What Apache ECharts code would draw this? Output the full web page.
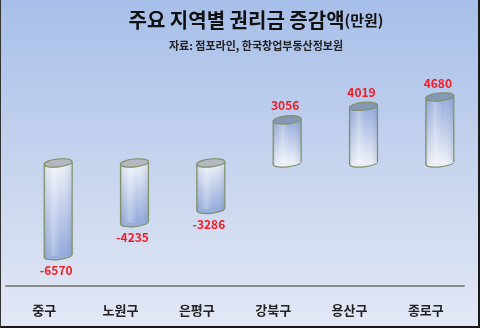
<!DOCTYPE html>
<html>
<head>
<meta charset="utf-8">
<script src="https://cdn.jsdelivr.net/npm/echarts@6/dist/echarts.min.js"></script>
<style>
html,body{margin:0;padding:0;}
#c{width:480px;height:328px;}
</style>
</head>
<body>
<div id="c"></div>
<script>
const categories = ['중구', '노원구', '은평구', '강북구', '용산구', '종로구'];
const values = [-6570, -4235, -3286, 3056, 4019, 4680];
const titleMain = '주요 지역별 권리금 증감액';
const titleUnit = '(만원)';
const subTitle = '자료: 점포라인, 한국창업부동산정보원';

const chart = echarts.init(document.getElementById('c'), null, {renderer: 'canvas'});
const FONT = '"Noto Sans CJK KR", "Noto Sans", sans-serif';
const OUTLINE = '#7f9166';

function renderItem(params, api) {
  const idx = api.value(0);
  const v = api.value(1);
  const p0 = api.coord([idx, 0]);
  const p1 = api.coord([idx, v]);
  const cx = p0[0] + 14;
  const rx = 14, ry = 4;
  const yTop = Math.min(p0[1], p1[1]);
  const yBot = Math.max(p0[1], p1[1]);
  const neg = v < 0;
  const vert = new echarts.graphic.LinearGradient(0, 0, 0, 1, neg ? [
    {offset: 0, color: '#eef1f9'}, {offset: 1, color: '#93aadb'}
  ] : [
    {offset: 0, color: '#93aadb'}, {offset: 1, color: '#eef1f9'}
  ]);
  const horiz = new echarts.graphic.LinearGradient(0, 0, 1, 0, [
    {offset: 0, color: 'rgba(100,110,130,0.35)'},
    {offset: 0.1, color: 'rgba(180,190,205,0.12)'},
    {offset: 0.32, color: 'rgba(255,255,255,0.3)'},
    {offset: 0.6, color: 'rgba(255,255,255,0.0)'},
    {offset: 1, color: 'rgba(70,95,150,0.2)'}
  ]);
  const rot = 0.1;
  const children = [
    {type: 'ellipse', shape: {cx: cx, cy: yBot, rx: rx, ry: ry}, rotation: rot, originX: cx, originY: yBot,
      style: {fill: neg ? '#98aedc' : '#eaeef8', stroke: OUTLINE, lineWidth: 1.2}},
    {type: 'rect', shape: {x: cx - rx, y: yTop, width: rx * 2, height: yBot - yTop}, style: {fill: vert}},
    {type: 'rect', shape: {x: cx - rx, y: yTop, width: rx * 2, height: yBot - yTop}, style: {fill: horiz}},
    {type: 'line', shape: {x1: cx - rx, y1: yTop + 1, x2: cx - rx, y2: yBot + 1}, style: {stroke: OUTLINE, lineWidth: 1.2}},
    {type: 'line', shape: {x1: cx + rx, y1: yTop - 1, x2: cx + rx, y2: yBot - 1}, style: {stroke: OUTLINE, lineWidth: 1.2}},
    {type: 'ellipse', shape: {cx: cx, cy: yTop, rx: rx, ry: ry}, rotation: rot, originX: cx, originY: yTop,
      style: {fill: neg ? '#b3b8c0' : '#8798b6', stroke: OUTLINE, lineWidth: 1.2}},
    {type: 'text', x: cx - 2, y: neg ? yBot + 15 : yTop - 14,
      style: {text: String(v), fill: '#ee1c25', font: 'bold 12px ' + FONT, align: 'center', verticalAlign: 'middle'}}
  ];
  return {type: 'group', children: children};
}

const option = {
  animation: false,
  graphic: [
    {type: 'rect', z: -10, silent: true, shape: {x: 0, y: 0, width: 480, height: 328},
      style: {fill: new echarts.graphic.LinearGradient(0, 0, 0, 1, [
        {offset: 0, color: '#a7bfe9'}, {offset: 0.5, color: '#c6d4ee'}, {offset: 1, color: '#e3e8f5'}
      ])}},
    {type: 'rect', z: 10, silent: true, shape: {x: 478, y: 0, width: 2, height: 328}, style: {fill: '#1a1a1a'}},
    {type: 'rect', z: 10, silent: true, shape: {x: 0, y: 326, width: 480, height: 2}, style: {fill: '#1a1a1a'}},
    {type: 'rect', z: 10, silent: true, shape: {x: 0, y: 0, width: 1, height: 328}, style: {fill: '#333'}}
  ],
  title: [
    {text: '{a|' + titleMain + '}{b|' + titleUnit + '}', left: 251, top: 3, textAlign: 'center',
      textStyle: {rich: {
        a: {fontFamily: FONT, fontSize: 20, fontWeight: 'bold', color: '#111', lineHeight: 24},
        b: {fontFamily: FONT, fontSize: 15, fontWeight: 'bold', color: '#111', lineHeight: 24}
      }}},
    {text: subTitle, left: 251, top: 34, textAlign: 'center',
      textStyle: {fontFamily: FONT, fontSize: 11, fontWeight: 'bold', color: '#222', lineHeight: 14}}
  ],
  grid: {left: 6, right: 16, top: 60, bottom: 42, containLabel: false},
  xAxis: {
    type: 'category', data: categories,
    axisLine: {show: true, onZero: false, lineStyle: {color: '#8e8e8e', width: 2}},
    axisTick: {show: false},
    splitLine: {show: false},
    axisLabel: {margin: 18, fontFamily: FONT, fontSize: 13, fontWeight: 'bold', color: '#222'}
  },
  yAxis: {type: 'value', min: -8720, max: 7300, show: false, splitLine: {show: false}},
  series: [{
    type: 'custom',
    renderItem: renderItem,
    clip: false,
    encode: {x: 0, y: 1},
    data: values.map((v, i) => [i, v])
  }]
};
chart.setOption(option);
</script>
</body>
</html>
